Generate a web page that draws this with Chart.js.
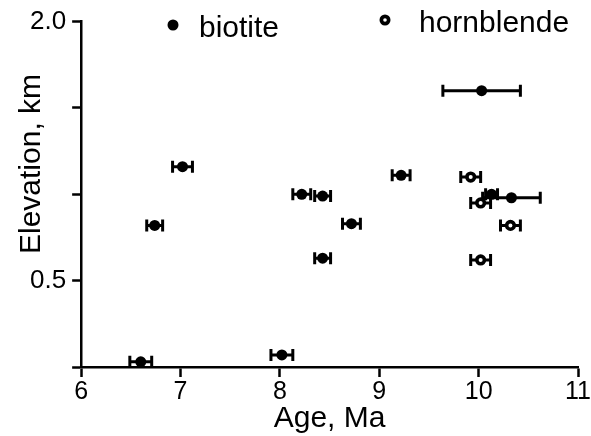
<!DOCTYPE html>
<html>
<head>
<meta charset="utf-8">
<script src="https://cdn.jsdelivr.net/npm/chart.js@4.4.1/dist/chart.umd.min.js"></script>
<style>
  html, body { margin: 0; padding: 0; background: #fff; }
  #wrap { width: 591px; height: 436px; }
</style>
</head>
<body>
<div id="wrap"><canvas id="chart"></canvas></div>
<script>
// biotite ages (Ma), elevations (km), and 1-sigma age errors
const biotiteAge  = [10.03, 7.02, 6.74, 9.22, 8.22, 8.43, 8.72, 8.43, 10.13, 10.33, 6.60, 8.02];
const biotiteElev = [1.60, 1.16, 0.82, 1.11, 1.00, 0.99, 0.83, 0.63, 1.00, 0.98, 0.03, 0.07];
const biotiteErr  = [0.39, 0.10, 0.08, 0.09, 0.09, 0.08, 0.09, 0.08, 0.06, 0.29, 0.11, 0.11];

// hornblende
const hornblendeAge  = [9.92, 10.02, 10.32, 10.02];
const hornblendeElev = [1.10, 0.95, 0.82, 0.62];
const hornblendeErr  = [0.10, 0.10, 0.10, 0.10];

const yLabelled = [0.5, 2.0];

const FONT = "'Liberation Sans', Arial, Helvetica, sans-serif";

function toPoints(xs, ys) {
  return xs.map((x, i) => ({ x: x, y: ys[i] }));
}

// horizontal error bars, drawn under the markers
const errorBars = {
  id: 'errorBars',
  beforeDatasetsDraw(chart) {
    const ctx = chart.ctx;
    const xs = chart.scales.x, ys = chart.scales.y;
    ctx.save();
    ctx.strokeStyle = '#000';
    ctx.lineWidth = 3;
    chart.data.datasets.forEach(ds => {
      ds.data.forEach((p, i) => {
        const e = ds.errors[i];
        const x0 = xs.getPixelForValue(p.x - e);
        const x1 = xs.getPixelForValue(p.x + e);
        const y = ys.getPixelForValue(p.y);
        ctx.beginPath();
        ctx.moveTo(x0, y); ctx.lineTo(x1, y);
        ctx.moveTo(x0, y - 6); ctx.lineTo(x0, y + 6);
        ctx.moveTo(x1, y - 6); ctx.lineTo(x1, y + 6);
        ctx.stroke();
      });
    });
    ctx.restore();
  }
};

// legend inside the plot and the y title, placed as in the original figure
const annotations = {
  id: 'annotations',
  afterDraw(chart) {
    const ctx = chart.ctx;
    ctx.save();
    ctx.fillStyle = '#000';
    ctx.font = '30px ' + FONT;
    ctx.textBaseline = 'alphabetic';

    ctx.beginPath();
    ctx.arc(173, 25, 5.5, 0, Math.PI * 2);
    ctx.fill();
    ctx.fillText('biotite', 199, 37);

    ctx.beginPath();
    ctx.arc(385, 20, 5.5, 0, Math.PI * 2);
    ctx.fill();
    ctx.fillStyle = '#fff';
    ctx.beginPath();
    ctx.arc(385, 20, 1.8, 0, Math.PI * 2);
    ctx.fill();
    ctx.fillStyle = '#000';
    ctx.fillText('hornblende', 419, 32);

    ctx.translate(32, 164);
    ctx.rotate(-Math.PI / 2);
    ctx.textAlign = 'center';
    ctx.textBaseline = 'middle';
    ctx.fillText('Elevation, km', 0, 0);
    ctx.restore();
  }
};

new Chart(document.getElementById('chart'), {
  type: 'scatter',
  data: {
    datasets: [
      {
        label: 'biotite',
        data: toPoints(biotiteAge, biotiteElev),
        errors: biotiteErr,
        pointStyle: 'circle',
        pointRadius: 5.5,
        backgroundColor: '#000',
        borderColor: '#000',
        borderWidth: 0
      },
      {
        label: 'hornblende',
        data: toPoints(hornblendeAge, hornblendeElev),
        errors: hornblendeErr,
        pointStyle: 'circle',
        pointRadius: 3.8,
        backgroundColor: '#fff',
        borderColor: '#000',
        borderWidth: 3.6
      }
    ]
  },
  options: {
    responsive: true,
    maintainAspectRatio: false,
    animation: false,
    layout: { padding: { top: 19, right: 2, left: 24, bottom: 2 } },
    plugins: {
      legend: { display: false },
      tooltip: { enabled: false }
    },
    scales: {
      x: {
        type: 'linear',
        min: 6, max: 11,
        border: { color: '#000', width: 2.5 },
        grid: { drawOnChartArea: false, drawTicks: true, tickLength: 10, tickColor: '#000', tickWidth: 2.5 },
        ticks: { stepSize: 1, color: '#000', font: { family: FONT, size: 25 }, padding: 0 },
        title: { display: true, text: 'Age, Ma', color: '#000', font: { family: FONT, size: 30, lineHeight: 1.0 }, padding: { top: -3, bottom: 0 } }
      },
      y: {
        type: 'linear',
        min: 0, max: 2.0,
        border: { color: '#000', width: 2.5 },
        grid: { drawOnChartArea: false, drawTicks: true, tickLength: 9, tickColor: '#000', tickWidth: 2.5 },
        ticks: {
          stepSize: 0.5,
          color: '#000',
          font: { family: FONT, size: 26 },
          padding: 6,
          callback: v => yLabelled.includes(v) ? v.toFixed(1) : ''
        }
      }
    }
  },
  plugins: [errorBars, annotations]
});
</script>
</body>
</html>
